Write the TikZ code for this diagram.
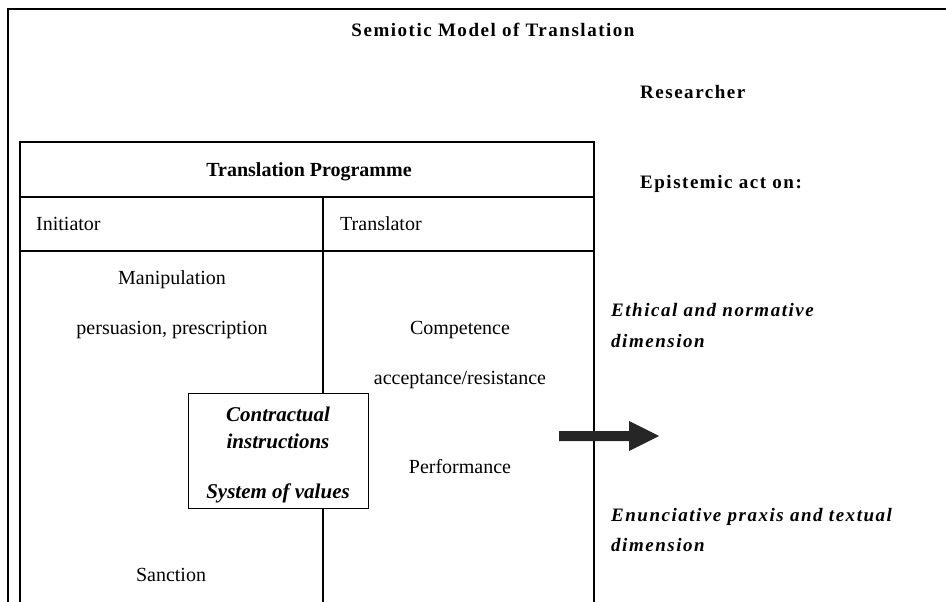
\documentclass[tikz,border=0pt]{standalone}
\usepackage{fontspec}
\setmainfont{Liberation Serif}
\usetikzlibrary{positioning}

\tikzset{
    plain/.style={font=\fontsize{20}{24}\selectfont, inner sep=0pt, anchor=mid, yshift=-4pt},
    heading/.style={font=\fontsize{20}{24}\selectfont\bfseries, inner sep=0pt, anchor=mid, yshift=-4pt},
    spaced/.style={font=\fontsize{19}{24}\selectfont\bfseries\addfontfeature{LetterSpace=8}, inner sep=0pt, anchor=mid west, yshift=-4pt},
    spacedit/.style={font=\fontsize{19}{24}\selectfont\bfseries\itshape\addfontfeature{LetterSpace=8}, inner sep=0pt, anchor=mid west, yshift=-4pt},
    contract/.style={font=\fontsize{21}{24}\selectfont\bfseries\itshape, inner sep=0pt, anchor=mid, yshift=-4pt}
}

\begin{document}
\begin{tikzpicture}[x=1pt, y=-1pt]
    \useasboundingbox (0,0) rectangle (946,602);
    \clip (0,0) rectangle (946,602);

    % outer frame and table
    \draw[line width=2pt] (960,9) -- (8,9) -- (8,620);
    \draw[line width=2pt] (20,620) -- (20,142) -- (594,142) -- (594,620);
    \draw[line width=2pt] (20,197) -- (594,197);
    \draw[line width=2pt] (20,251) -- (594,251);
    \draw[line width=1.5pt] (323,197) -- (323,620);

    \fill[black!85] (559,431) -- (629,431) -- (629,421) -- (659,436)
        -- (629,451) -- (629,441) -- (559,441) -- cycle;

    \node[draw, fill=white, line width=1pt, minimum width=180pt, minimum height=115pt] (box) at (278,450.5) {};

    \begin{scope}[every node/.style={plain}]
        \node (init) at (36,224) [anchor=mid west] {Initiator};
        \node (trans) at (340,224) [anchor=mid west] {Translator};
        \node (manip) at (172,278) {Manipulation};
        \node (persu) at (172,328) {persuasion, prescription};
        \node (comp) at (460,328) {Competence};
        \node (accept) at (460,378) {acceptance/resistance};
        \node (perf) at (460,467) {Performance};
        \node (sanct) at (171,575) {Sanction};
    \end{scope}

    \node[heading] (prog) at (309,170) {Translation Programme};

    \node[contract] (contr) at (278,415) {Contractual};
    \node[contract] (instr) at (278,442) {instructions};
    \node[contract] (values) at (278,492) {System of values};

    \node[spaced, anchor=mid] (title) at (493,30) {Semiotic Model of Translation};
    \node[spaced] (research) at (640,92) {Researcher};
    \node[spaced] (epist) at (640,182) {Epistemic act on:};
    \node[spacedit] (ethic) at (611,310) {Ethical and normative};
    \node[spacedit] (ethdim) at (611,341) {dimension};
    \node[spacedit] (enunc) at (611,515) {Enunciative praxis and textual};
    \node[spacedit] (enudim) at (611,545) {dimension};
\end{tikzpicture}
\end{document}
